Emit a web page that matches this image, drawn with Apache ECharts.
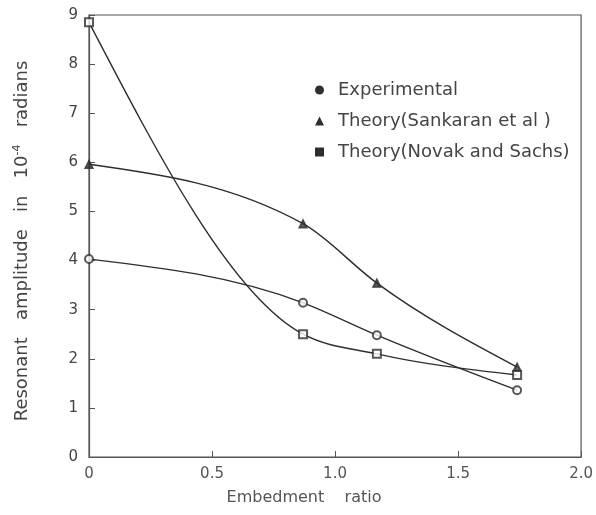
<!DOCTYPE html>
<html>
<head>
<meta charset="utf-8">
<script src="https://cdn.jsdelivr.net/npm/echarts@6/dist/echarts.min.js"></script>
<style>
  html, body { margin: 0; padding: 0; background: #fff; }
  #chart { width: 596px; height: 515px; }
</style>
</head>
<body>
<div id="chart"></div>
<script>
// Embedment ratios at which the amplitudes were measured / computed
const embedmentRatio = [0, 0.87, 1.17, 1.74];

// Resonant amplitude (x 10^-4 radians)
const experimental = [4.03, 3.14, 2.48, 1.36];
const theorySankaran = [5.96, 4.75, 3.54, 1.83];
const theoryNovak = [8.85, 2.5, 2.1, 1.67];

const seriesNames = ['Experimental', 'Theory(Sankaran et al )', 'Theory(Novak and Sachs)'];
const xTickLabels = ['0', '0.5', '1.0', '1.5', '2.0'];

const ink = '#2e2e2e';
const font = 'DejaVu Sans';

function pairs(ys) {
  return embedmentRatio.map((x, i) => [x, ys[i]]);
}

// Monotone cubic (Fritsch–Carlson) tangents for pixel points, like a drafting curve
function monotoneSlopes(pts) {
  const n = pts.length;
  const h = [], s = [], t = new Array(n).fill(0);
  for (let i = 0; i < n - 1; i++) {
    h[i] = pts[i + 1][0] - pts[i][0];
    s[i] = (pts[i + 1][1] - pts[i][1]) / h[i];
  }
  for (let i = 1; i < n - 1; i++) {
    const p = (s[i - 1] * h[i] + s[i] * h[i - 1]) / (h[i - 1] + h[i]);
    t[i] = (Math.sign(s[i - 1]) + Math.sign(s[i])) *
      Math.min(Math.abs(s[i - 1]), Math.abs(s[i]), 0.5 * Math.abs(p)) || 0;
  }
  t[0] = (3 * s[0] - t[1]) / 2;
  t[n - 1] = (3 * s[n - 2] - t[n - 2]) / 2;
  return t;
}

// Custom series that draws a smooth curve segment between consecutive data points
function curveSeries(name, ys) {
  return {
    name: name,
    type: 'custom',
    data: pairs(ys),
    clip: false,
    z: 2,
    silent: true,
    renderItem: function (params, api) {
      const i = params.dataIndex;
      if (i >= ys.length - 1) return { type: 'group', children: [] };
      const pts = embedmentRatio.map((x, k) => api.coord([x, ys[k]]));
      const t = monotoneSlopes(pts);
      const a = pts[i], b = pts[i + 1];
      const d = (b[0] - a[0]) / 3;
      return {
        type: 'bezierCurve',
        shape: {
          x1: a[0], y1: a[1],
          cpx1: a[0] + d, cpy1: a[1] + d * t[i],
          cpx2: b[0] - d, cpy2: b[1] - d * t[i + 1],
          x2: b[0], y2: b[1]
        },
        style: { stroke: ink, lineWidth: 1.4, fill: null }
      };
    }
  };
}

function markerSeries(name, ys, symbol, size) {
  return {
    name: name,
    type: 'scatter',
    data: pairs(ys),
    symbol: symbol,
    symbolSize: size,
    z: 4,
    itemStyle: { color: ink, borderColor: ink, borderWidth: 1.4 },
    emphasis: { disabled: true }
  };
}

const chart = echarts.init(document.getElementById('chart'), null, { renderer: 'canvas' });

chart.setOption({
  backgroundColor: '#ffffff',
  animation: false,
  textStyle: { fontFamily: font, color: '#444' },
  grid: {
    left: 89, right: 12, top: 15, bottom: 58,
    show: true, borderColor: '#555', borderWidth: 1.2, backgroundColor: 'transparent'
  },
  legend: {
    orient: 'vertical',
    left: 310, top: 76,
    itemGap: 13,
    itemWidth: 9, itemHeight: 9,
    textStyle: { fontFamily: font, fontSize: 18, color: '#444', padding: [0, 0, 0, 9] },
    data: [
      { name: seriesNames[0], icon: 'circle', itemStyle: { color: ink } },
      { name: seriesNames[1], icon: 'triangle', itemStyle: { color: ink } },
      { name: seriesNames[2], icon: 'rect', itemStyle: { color: ink } }
    ]
  },
  xAxis: {
    type: 'value',
    min: 0, max: 2, interval: 0.5,
    name: 'Embedment    ratio',
    nameLocation: 'middle',
    nameGap: 33,
    nameTextStyle: { fontFamily: font, fontSize: 16, color: '#555', padding: [0, 62, 0, 0] },
    axisLine: { show: true, lineStyle: { color: '#555', width: 1.2 } },
    axisTick: { show: true, inside: true, length: 6, lineStyle: { color: '#555' } },
    splitLine: { show: false },
    axisLabel: {
      margin: 10, fontSize: 15, color: '#555', fontFamily: font,
      formatter: (v) => xTickLabels[Math.round(v / 0.5)]
    }
  },
  yAxis: {
    type: 'value',
    min: 0, max: 9, interval: 1,
    name: '{t|Resonant   amplitude   in   10}{s|-4}{t|   radians}',
    nameLocation: 'middle',
    nameRotate: 90,
    nameGap: 56,
    nameTextStyle: {
      padding: [0, 10, 0, 0],
      rich: {
        t: { fontFamily: font, fontSize: 18, color: '#444' },
        s: { fontFamily: font, fontSize: 11, color: '#444', verticalAlign: 'top', padding: [0, 0, 10, 0] }
      }
    },
    axisLine: { show: true, lineStyle: { color: '#555', width: 1.2 } },
    axisTick: { show: true, inside: true, length: 6, lineStyle: { color: '#555' } },
    splitLine: { show: false },
    axisLabel: { margin: 11, fontSize: 15, color: '#444', fontFamily: font }
  },
  series: [
    curveSeries(seriesNames[0], experimental),
    curveSeries(seriesNames[1], theorySankaran),
    curveSeries(seriesNames[2], theoryNovak),
    markerSeries(seriesNames[0], experimental, 'emptyCircle', 8),
    markerSeries(seriesNames[1], theorySankaran, 'triangle', 8),
    markerSeries(seriesNames[2], theoryNovak, 'emptyRect', 8)
  ]
});
</script>
</body>
</html>
